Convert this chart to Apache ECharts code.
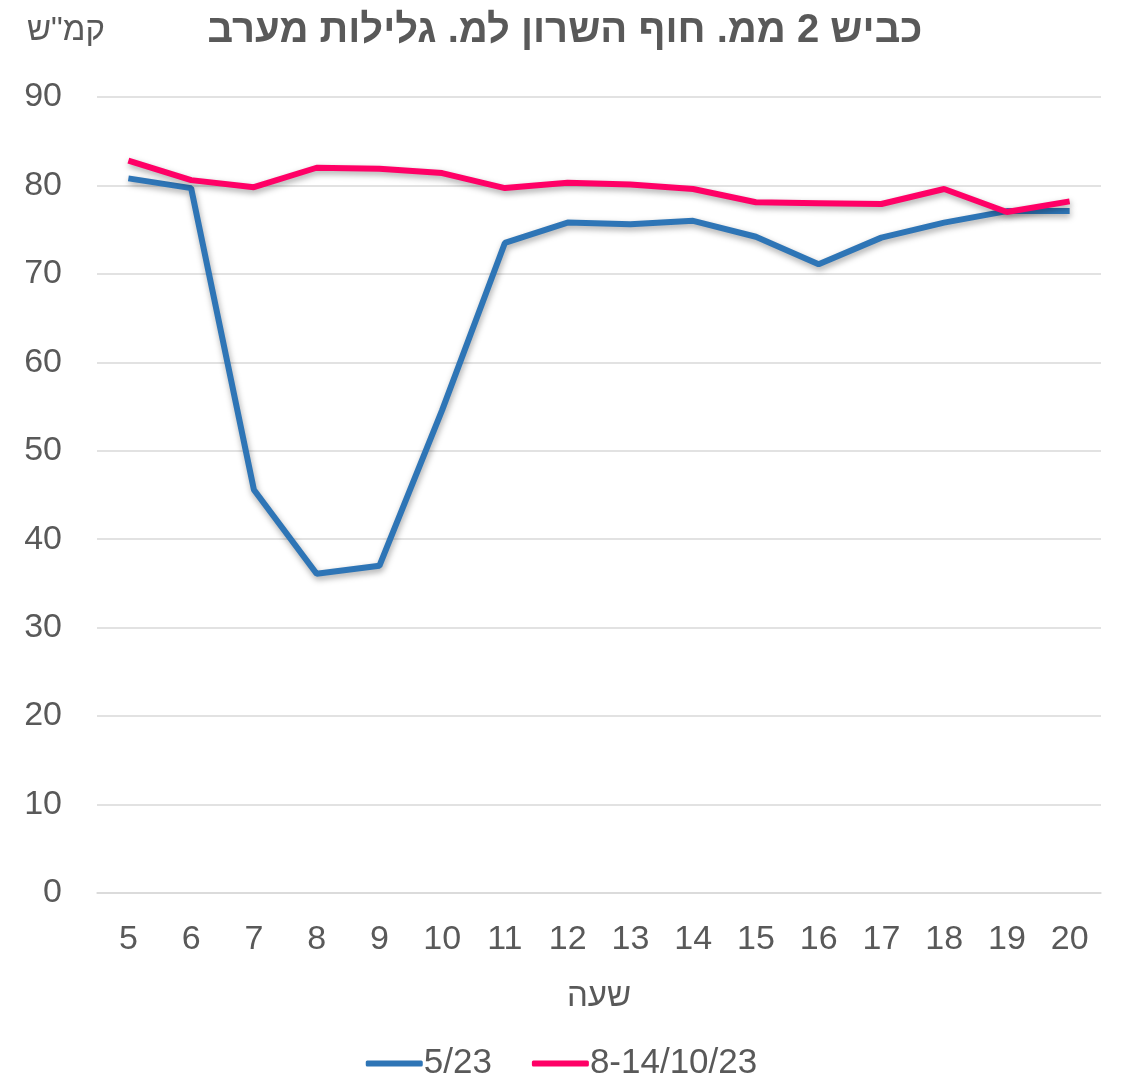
<!DOCTYPE html>
<html>
<head>
<meta charset="utf-8">
<script src="https://cdn.jsdelivr.net/npm/echarts@6/dist/echarts.min.js"></script>
<style>
  html, body { margin: 0; padding: 0; background: #fff; }
  #chart { width: 1123px; height: 1080px; }
</style>
</head>
<body>
<div id="chart"></div>
<script>
// שעות
const hours = ['5', '6', '7', '8', '9', '10', '11', '12', '13', '14', '15', '16', '17', '18', '19', '20'];

// מהירות ממוצעת קמ"ש
const may23 = [80.8, 79.7, 45.6, 36.1, 37.0, 54.6, 73.5, 75.8, 75.6, 76.0, 74.2, 71.1, 74.1, 75.8, 77.1, 77.1];
const oct23 = [82.8, 80.6, 79.8, 82.0, 81.9, 81.4, 79.7, 80.3, 80.1, 79.6, 78.1, 78.0, 77.9, 79.6, 77.0, 78.2];

const yTicks = { min: 0, max: 90, interval: 10 };

const textColor = '#595959';
const font = 'Liberation Sans, Arial, sans-serif';

const chart = echarts.init(document.getElementById('chart'));

function lineSeries(name, data, color) {
  return {
    name: name,
    type: 'line',
    data: data,
    showSymbol: false,
    symbol: 'none',
    lineStyle: {
      color: color,
      width: 6,
      shadowColor: 'rgba(0,0,0,0.35)',
      shadowBlur: 6,
      shadowOffsetY: 3,
      shadowOffsetX: 1
    },
    itemStyle: { color: color },
    animation: false
  };
}

chart.setOption({
  backgroundColor: '#fff',
  textStyle: { fontFamily: font },
  title: {
    text: 'כביש 2 ממ. חוף השרון למ. גלילות מערב',
    left: 560,
    textAlign: 'center',
    top: 6,
    textStyle: { fontSize: 40, fontWeight: 'bold', color: textColor, fontFamily: font }
  },
  grid: { left: 97, right: 22, top: 97, bottom: 187 },
  legend: {
    top: 1041,
    left: 'center',
    icon: 'roundRect',
    itemWidth: 57,
    itemHeight: 6,
    itemGap: 40,
    textStyle: { fontSize: 35, color: textColor, fontFamily: font, padding: [0, 0, 0, -4] },
    data: ['5/23', '8-14/10/23']
  },
  xAxis: {
    type: 'category',
    data: hours,
    boundaryGap: true,
    name: 'שעה',
    nameLocation: 'middle',
    nameGap: 87,
    nameTextStyle: { fontSize: 33, color: textColor, fontFamily: font },
    axisLine: { show: true, lineStyle: { color: '#d9d9d9', width: 1.5 } },
    axisTick: { show: false },
    axisLabel: { fontSize: 34, color: textColor, margin: 30, fontFamily: font }
  },
  yAxis: {
    type: 'value',
    min: yTicks.min,
    max: yTicks.max,
    interval: yTicks.interval,
    name: 'קמ"ש',
    nameLocation: 'end',
    nameGap: 50,
    nameTextStyle: { fontSize: 33, color: textColor, fontFamily: font, align: 'center', padding: [0, 62, 0, 0] },
    axisLine: { show: false },
    axisTick: { show: false },
    splitLine: { lineStyle: { color: '#d9d9d9', width: 1.5 } },
    axisLabel: { fontSize: 34, color: textColor, margin: 35, fontFamily: font }
  },
  series: [
    lineSeries('5/23', may23, '#2E75B6'),
    lineSeries('8-14/10/23', oct23, '#FF0066')
  ]
});
</script>
</body>
</html>
